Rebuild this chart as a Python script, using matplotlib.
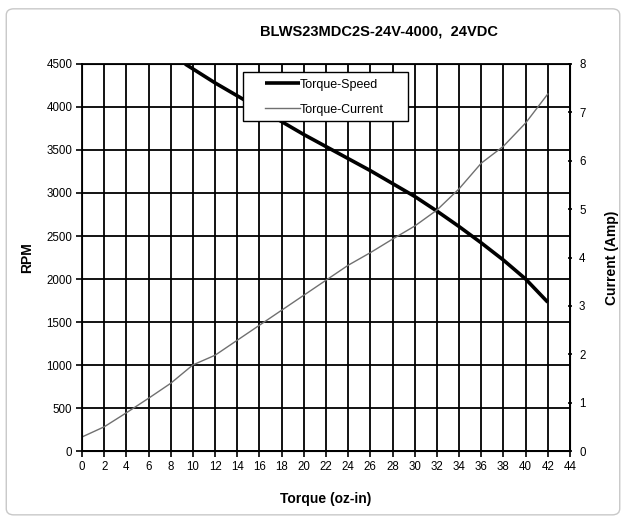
import matplotlib
matplotlib.use("Agg")
import matplotlib.pyplot as plt
from matplotlib.patches import FancyBboxPatch, Rectangle

plt.rcParams['font.family'] = ['Liberation Sans', 'DejaVu Sans']

title = "BLWS23MDC2S-24V-4000,  24VDC"
speed_torque = [9.3, 12, 14, 16, 18, 20, 22, 24, 26, 28, 30, 32, 34, 36, 38, 40, 42]
speed_rpm = [4500, 4280, 4130, 3980, 3830, 3680, 3540, 3400, 3260, 3110, 2960, 2790, 2610, 2420, 2220, 2000, 1730]
current_torque = [0, 2, 4, 6, 8, 10, 12, 14, 16, 18, 20, 22, 24, 26, 28, 30, 32, 34, 36, 38, 40, 42]
current_amp = [0.29, 0.5, 0.79, 1.09, 1.40, 1.78, 1.98, 2.29, 2.6, 2.91, 3.22, 3.53, 3.84, 4.1, 4.38, 4.65,
               4.98, 5.42, 5.95, 6.3, 6.78, 7.38]
x_ticks = list(range(0, 45, 2))
rpm_ticks = list(range(0, 4501, 500))
amp_ticks = list(range(0, 9))

fig = plt.figure(figsize=(6.26, 5.19), dpi=100)
fig.patches.append(FancyBboxPatch((0.01, 0.008), 0.98, 0.975, boxstyle="round,pad=0,rounding_size=0.012",
                                  transform=fig.transFigure, facecolor='none', edgecolor='#c8c8c8', lw=1.0))
ax = fig.add_axes([0.131, 0.131, 0.7795, 0.7457])
ax.set_xlim(0, 44)
ax.set_ylim(0, 4500)
ax.set_xticks(x_ticks)
ax.set_yticks(rpm_ticks)
ax.grid(True, color='black', lw=1.3)
ax.set_axisbelow(True)
for s in ax.spines.values():
    s.set_linewidth(1.3)
ax.tick_params(labelsize=8.3, length=4, width=1.2, colors='black', pad=3)
l1, = ax.plot(speed_torque, speed_rpm, color='black', lw=2.6, solid_capstyle='butt')
ax.set_xlabel("Torque (oz-in)", fontsize=10, fontweight='bold', labelpad=14)
ax.set_ylabel("RPM", fontsize=10, fontweight='bold', labelpad=9)

ax2 = ax.twinx()
ax2.set_ylim(0, 8)
ax2.set_yticks(amp_ticks)
ax2.tick_params(labelsize=8.3, length=3, width=1.2, direction='inout', pad=5)
l2, = ax2.plot(current_torque, current_amp, color='#707070', lw=1.0)
ax2.set_ylabel("Current (Amp)", fontsize=10, fontweight='bold', labelpad=14)

ax2.add_patch(Rectangle((0.330, 0.853), 0.338, 0.126, transform=ax2.transAxes, facecolor='white',
                        edgecolor='black', lw=1.0, zorder=5))
leg = ax2.legend([l1, l2], ["Torque-Speed", "Torque-Current"], loc='upper left',
                 bbox_to_anchor=(0.375, 0.962), fontsize=9, frameon=False,
                 handlelength=2.8, borderpad=0, borderaxespad=0, labelspacing=1.05,
                 handletextpad=0.0)
leg.set_zorder(6)

fig.text(0.605, 0.94, title, ha='center', va='center', fontsize=10.5, fontweight='bold')
fig.savefig("out.png", dpi=100)
